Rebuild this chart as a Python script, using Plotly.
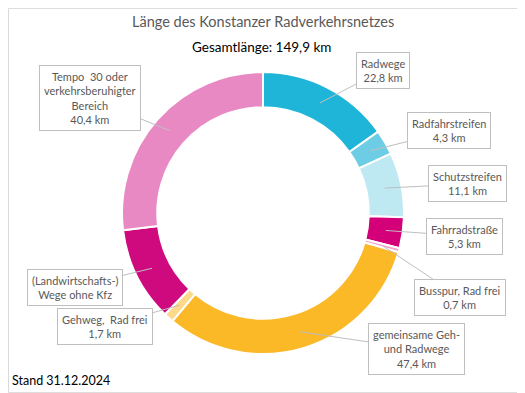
import math
import plotly.graph_objects as go

categories = ["Radwege", "Radfahrstreifen", "Schutzstreifen", "Fahrradstraße",
              "Busspur, Rad frei", "gemeinsame Geh- und Radwege", "Gehweg, Rad frei",
              "(Landwirtschafts-) Wege ohne Kfz", "Tempo 30 oder verkehrsberuhigter Bereich"]
values_km = [22.8, 4.3, 11.1, 5.3, 0.7, 47.4, 1.7, 16.2, 40.4]
label_texts = ["Radwege<br>22,8 km", "Radfahrstreifen<br>4,3 km", "Schutzstreifen<br>11,1 km",
               "Fahrradstraße<br>5,3 km", "Busspur, Rad frei<br>0,7 km",
               "gemeinsame Geh-<br>und Radwege<br>47,4 km", "Gehweg,  Rad frei<br>1,7 km",
               "(Landwirtschafts-)<br>Wege ohne Kfz",
               "Tempo  30 oder<br>verkehrsberuhigter<br>Bereich<br>40,4 km"]
colors = ["#1FB5D8", "#6CCDE5", "#BEE9F3", "#D4007A", "#F2A3CC",
          "#FBB827", "#FDD98A", "#CF0A7E", "#E989C4"]
# callout box centres (screen pixels)
box_pos = [(383, 70), (449, 131), (467, 184), (464, 236), (460, 297),
           (416, 349), (105, 326), (75, 287), (90, 98)]

OFF = 8  # page body margin
W, H = 525 - OFF, 393 - OFF
cx, cy, R = 263 - OFF, 213 - OFF, 141
r_mid = 124
FONT = "Lato, Open Sans, sans-serif"


def px(x):
    return (x - OFF) / W


def py(y):
    return 1 - (y - OFF) / H


fig = go.Figure()
fig.add_trace(go.Pie(
    labels=categories, values=values_km, hole=0.75, sort=False,
    direction="clockwise", rotation=0,
    marker=dict(colors=colors, line=dict(color="white", width=2)),
    textinfo="none", hoverinfo="label+value", showlegend=False,
    domain=dict(x=[(cx - R) / W, (cx + R) / W], y=[1 - (cy + R) / H, 1 - (cy - R) / H]),
))

total = sum(values_km)
cum = 0.0
for v, txt, (bx, by) in zip(values_km, label_texts, box_pos):
    mid = (cum + v / 2) / total * 2 * math.pi
    cum += v
    tx = cx + r_mid * math.sin(mid)
    ty = cy - r_mid * math.cos(mid)
    fig.add_annotation(
        x=tx / W, y=1 - ty / H, xref="paper", yref="paper",
        ax=(bx - OFF) - tx, ay=(by - OFF) - ty, axref="pixel", ayref="pixel",
        text=txt, showarrow=True, arrowhead=0, arrowwidth=1, arrowcolor="#BFBFBF",
        font=dict(family=FONT, size=11, color="#595959"),
        bgcolor="white", bordercolor="#BFBFBF", borderwidth=1, borderpad=4,
        align="center",
    )

fig.add_annotation(x=px(263), y=py(21), xref="paper", yref="paper", showarrow=False,
                   xanchor="center", yanchor="middle",
                   text="Länge des Konstanzer Radverkehrsnetzes",
                   font=dict(family=FONT, size=14.5, color="#595959"))
fig.add_annotation(x=px(261), y=py(47), xref="paper", yref="paper", showarrow=False,
                   xanchor="center", yanchor="middle",
                   text="Gesamtlänge: 149,9 km",
                   font=dict(family=FONT, size=13.5, color="#000000"))
fig.add_annotation(x=px(10), y=py(380), xref="paper", yref="paper", showarrow=False,
                   xanchor="left", yanchor="middle", text="Stand 31.12.2024",
                   font=dict(family=FONT, size=12.5, color="#000000"))

fig.add_shape(type="rect", xref="paper", yref="paper", x0=0.001, y0=0.001, x1=0.999, y1=0.999,
              line=dict(color="#D9D9D9", width=1))

fig.update_layout(width=W, height=H, margin=dict(l=0, r=0, t=0, b=0),
                  paper_bgcolor="white", plot_bgcolor="white")
fig.write_html("out.html")
